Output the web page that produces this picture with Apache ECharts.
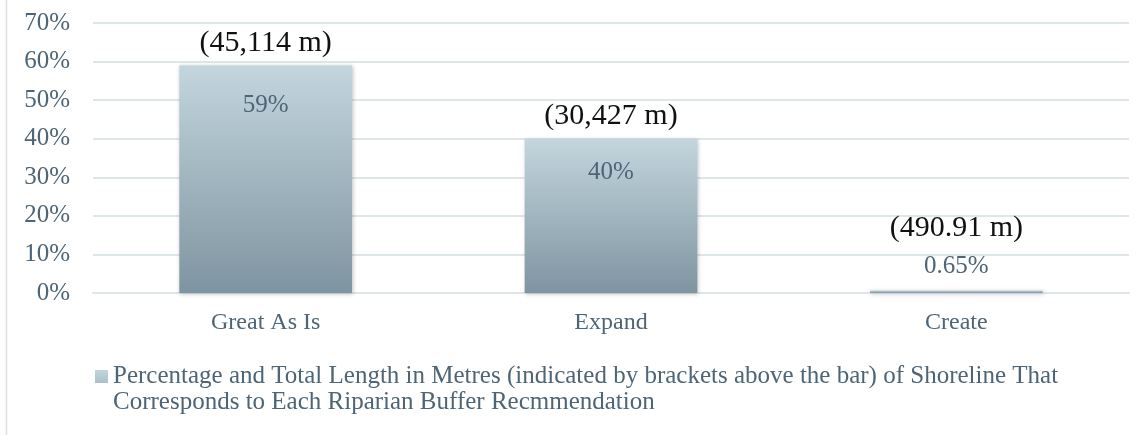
<!DOCTYPE html>
<html>
<head>
<meta charset="utf-8">
<script src="https://cdn.jsdelivr.net/npm/echarts@6/dist/echarts.min.js"></script>
<style>
  html, body { margin: 0; padding: 0; background: #fff; }
  #chart { width: 1145px; height: 435px; }
</style>
</head>
<body>
<div id="chart"></div>
<script>
// data
const categories = ['Great As Is', 'Expand', 'Create'];
const percentValues = [59, 40, 0.65];
const lengthLabels = ['(45,114 m)', '(30,427 m)', '(490.91 m)'];
const yTicks = [0, 10, 20, 30, 40, 50, 60, 70];
const seriesName = 'Percentage and Total Length in Metres (indicated by brackets above the bar) of Shoreline That Corresponds to Each Riparian Buffer Recmmendation';

// label placement (px from bar top), kept apart from the data
const innerLabelDy = [40, 34, -24];
const lengthLabelDy = [-22, -23, -62];

const textColor = '#4d6576';
const fontFamily = '"Liberation Serif", "DejaVu Serif", serif';

const barGradient = new echarts.graphic.LinearGradient(0, 0, 0, 1, [
  { offset: 0, color: '#c3d6de' },
  { offset: 1, color: '#7e94a0' },
]);

const chart = echarts.init(document.getElementById('chart'));

const option = {
  backgroundColor: '#fff',
  animation: false,
  grid: {
    left: 93,
    right: 16,
    top: 23,
    bottom: 142,
  },
  legend: {
    data: [seriesName],
    left: 90,
    top: 358,
    // square at the top of a tall box so it lines up with the first text line
    icon: 'path://M0,0L13,0L13,13L0,13Z M0,38L0.01,38L0.01,38.01L0,38.01Z',
    itemWidth: 13,
    itemHeight: 39,
    itemGap: 6,
    selectedMode: false,
    formatter: (name) => name.replace(' That ', ' That\n'),
    textStyle: {
      color: textColor,
      fontFamily,
      fontSize: 25,
      lineHeight: 26,
    },
  },
  xAxis: {
    type: 'category',
    data: categories,
    axisTick: { show: false },
    axisLine: { lineStyle: { color: '#dfe6ea', width: 2 } },
    axisLabel: {
      color: textColor,
      fontFamily,
      fontSize: 24,
      margin: 18,
    },
  },
  yAxis: {
    type: 'value',
    min: yTicks[0],
    max: yTicks[yTicks.length - 1],
    interval: 10,
    axisLine: { show: false },
    axisTick: { show: false },
    splitLine: { lineStyle: { color: '#dfe6ea', width: 2 } },
    axisLabel: {
      color: textColor,
      fontFamily,
      fontSize: 25,
      margin: 23,
      formatter: '{value}%',
    },
  },
  series: [
    {
      name: seriesName,
      type: 'bar',
      barWidth: '50%',
      itemStyle: {
        color: barGradient,
        shadowColor: 'rgba(0, 0, 0, 0.25)',
        shadowBlur: 4,
        shadowOffsetX: 1,
        shadowOffsetY: 1,
      },
      data: percentValues.map((v, i) => ({
        value: v,
        label: { position: ['50%', innerLabelDy[i]] },
      })),
      label: {
        show: true,
        align: 'center',
        verticalAlign: 'middle',
        color: textColor,
        fontFamily,
        fontSize: 25,
        formatter: (p) => `${p.value}%`,
      },
      z: 2,
    },
    {
      name: 'lengths',
      type: 'bar',
      barWidth: '50%',
      barGap: '-100%',
      silent: true,
      itemStyle: { color: 'rgba(0,0,0,0)' },
      data: percentValues.map((v, i) => ({
        value: v,
        label: { position: ['50%', lengthLabelDy[i]] },
      })),
      label: {
        show: true,
        align: 'center',
        verticalAlign: 'middle',
        color: '#111',
        fontFamily,
        fontSize: 30,
        formatter: (p) => lengthLabels[p.dataIndex],
      },
      z: 3,
    },
  ],
  graphic: [
    {
      type: 'line',
      shape: { x1: 6.5, y1: 0, x2: 6.5, y2: 435 },
      style: { stroke: '#dcdfe2', lineWidth: 1.5 },
    },
  ],
};

chart.setOption(option);
</script>
</body>
</html>
